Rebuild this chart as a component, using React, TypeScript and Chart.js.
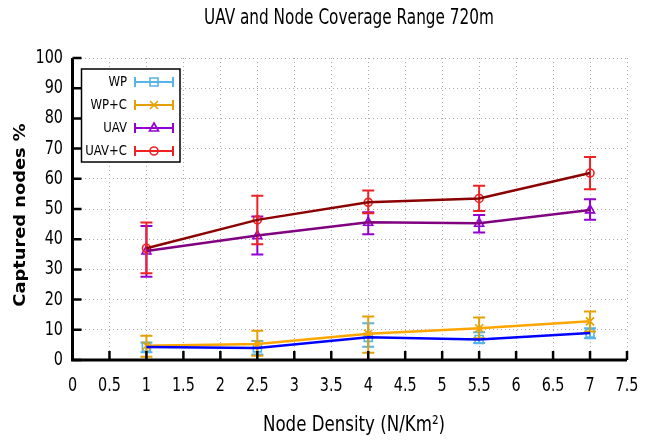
import React, { useEffect, useRef } from "react";
import { Chart, registerables } from "chart.js";
Chart.register(...registerables);

const densities = [1, 2.5, 4, 5.5, 7];
const seriesNames = ["WP", "WP+C", "UAV", "UAV+C"];

const wpMean = [4.3, 4.0, 7.5, 6.8, 8.9];
const wpLow = [2.6, 1.8, 4.4, 5.6, 7.2];
const wpHigh = [5.8, 6.3, 12.2, 9.2, 10.5];

const wpcMean = [4.7, 5.3, 8.7, 10.5, 12.8];
const wpcLow = [1.1, 1.4, 2.4, 7.2, 9.4];
const wpcHigh = [8.0, 9.7, 14.4, 14.1, 16.1];

const uavMean = [36.1, 41.2, 45.6, 45.3, 49.7];
const uavLow = [27.6, 34.9, 41.6, 42.2, 46.4];
const uavHigh = [44.4, 47.5, 48.9, 48.0, 53.2];

const uavcMean = [37.0, 46.4, 52.2, 53.5, 61.9];
const uavcLow = [28.7, 38.3, 48.6, 49.3, 56.5];
const uavcHigh = [45.5, 54.4, 56.1, 57.7, 67.2];

const means = [wpMean, wpcMean, uavMean, uavcMean];
const lows = [wpLow, wpcLow, uavLow, uavcLow];
const highs = [wpHigh, wpcHigh, uavHigh, uavcHigh];

const titleText = "UAV and Node Coverage Range 720m";
const xTitle = "Node Density (N/Km\u00B2)";
const yTitle = "Captured nodes %";

const lineColors = ["#0000ff", "#ffa500", "#800080", "#8b0000"];
const errColors = ["#56b4e9", "#e69f00", "#9400d3", "#ee2222"];
const markers = ["square", "cross", "triangle", "circle"];

const FONT = '"DejaVu Sans Condensed", "Liberation Sans Narrow", "DejaVu Sans", sans-serif';

function drawMarker(ctx: CanvasRenderingContext2D, kind: string, x: number, y: number, color: string) {
  ctx.save();
  ctx.strokeStyle = color;
  ctx.lineWidth = 1.6;
  ctx.beginPath();
  const s = 4;
  if (kind === "square") {
    ctx.rect(x - s, y - s, 2 * s, 2 * s);
  } else if (kind === "cross") {
    ctx.moveTo(x - s, y - s); ctx.lineTo(x + s, y + s);
    ctx.moveTo(x + s, y - s); ctx.lineTo(x - s, y + s);
  } else if (kind === "triangle") {
    ctx.moveTo(x, y - s - 1); ctx.lineTo(x + s + 0.5, y + s - 1); ctx.lineTo(x - s - 0.5, y + s - 1); ctx.closePath();
  } else {
    ctx.arc(x, y, s, 0, Math.PI * 2);
  }
  ctx.stroke();
  ctx.restore();
}

function drawErrBar(ctx: CanvasRenderingContext2D, x: number, y1: number, y2: number, color: string) {
  ctx.save();
  ctx.strokeStyle = color;
  ctx.lineWidth = 2;
  ctx.beginPath();
  ctx.moveTo(x, y1); ctx.lineTo(x, y2);
  ctx.moveTo(x - 6, y1); ctx.lineTo(x + 6, y1);
  ctx.moveTo(x - 6, y2); ctx.lineTo(x + 6, y2);
  ctx.stroke();
  ctx.restore();
}

function stretchedText(ctx: CanvasRenderingContext2D, text: string, x: number, y: number, font: string, align: CanvasTextAlign, k: number) {
  ctx.save();
  ctx.translate(x, y);
  ctx.scale(1, k);
  ctx.font = font;
  ctx.textAlign = align;
  ctx.textBaseline = "middle";
  ctx.fillStyle = "#000";
  ctx.fillText(text, 0, 0);
  ctx.restore();
}

const errorPlugin = {
  id: "errbars",
  beforeDatasetsDraw(chart: any) {
    const ctx = chart.ctx;
    const xs = chart.scales.x, ys = chart.scales.y;
    for (let i = 0; i < means.length; i++) {
      for (let j = 0; j < densities.length; j++) {
        const px = xs.getPixelForValue(densities[j]);
        drawErrBar(ctx, px, ys.getPixelForValue(lows[i][j]), ys.getPixelForValue(highs[i][j]), errColors[i]);
        drawMarker(ctx, markers[i], px, ys.getPixelForValue(means[i][j]), errColors[i]);
      }
    }
  },
};

const decorPlugin = {
  id: "decor",
  afterDraw(chart: any) {
    const ctx = chart.ctx;
    const a = chart.chartArea;
    const xs = chart.scales.x, ys = chart.scales.y;
    ctx.save();
    // axes
    ctx.strokeStyle = "#000";
    ctx.lineWidth = 3;
    ctx.beginPath();
    ctx.moveTo(a.left, a.top); ctx.lineTo(a.left, a.bottom); ctx.lineTo(a.right, a.bottom);
    ctx.stroke();
    ctx.lineWidth = 2.5;
    ctx.beginPath();
    xs.ticks.forEach((t: any) => {
      const px = xs.getPixelForValue(t.value);
      ctx.moveTo(px, a.bottom); ctx.lineTo(px, a.bottom - 9);
    });
    ys.ticks.forEach((t: any) => {
      const py = ys.getPixelForValue(t.value);
      ctx.moveTo(a.left, py); ctx.lineTo(a.left + 9, py);
    });
    ctx.stroke();

    // tick labels
    const tickFont = `16px ${FONT}`;
    xs.ticks.forEach((t: any) => {
      stretchedText(ctx, String(t.value), xs.getPixelForValue(t.value), 385.5, tickFont, "center", 1.22);
    });
    ys.ticks.forEach((t: any) => {
      stretchedText(ctx, String(t.value), 63, ys.getPixelForValue(t.value), tickFont, "right", 1.22);
    });

    // titles
    stretchedText(ctx, titleText, 349, 18.5, `17px ${FONT}`, "center", 1.22);
    stretchedText(ctx, xTitle, 354, 425.5, `18.5px ${FONT}`, "center", 1.15);
    ctx.save();
    ctx.translate(21, 215);
    ctx.rotate(-Math.PI / 2);
    ctx.scale(1.2, 1);
    ctx.font = `bold 16.5px ${FONT}`;
    ctx.textAlign = "center";
    ctx.textBaseline = "middle";
    ctx.fillStyle = "#000";
    ctx.fillText(yTitle, 0, 0);
    ctx.restore();

    // legend
    const lx = 81.5, ly = 69, lw = 98.5, lh = 93;
    ctx.fillStyle = "#fff";
    ctx.fillRect(lx, ly, lw, lh);
    ctx.strokeStyle = "#000";
    ctx.lineWidth = 1.5;
    ctx.strokeRect(lx, ly, lw, lh);
    for (let i = 0; i < seriesNames.length; i++) {
      const y = 82 + i * 23;
      stretchedText(ctx, seriesNames[i], 127, y, `13px ${FONT}`, "right", 1.12);
      ctx.strokeStyle = errColors[i];
      ctx.lineWidth = 2;
      ctx.beginPath();
      ctx.moveTo(135, y); ctx.lineTo(173, y);
      ctx.moveTo(135, y - 5); ctx.lineTo(135, y + 5);
      ctx.moveTo(173, y - 5); ctx.lineTo(173, y + 5);
      ctx.stroke();
      drawMarker(ctx, markers[i], 154, y, errColors[i]);
    }
    ctx.restore();
  },
};

export default function App() {
  const ref = useRef<HTMLCanvasElement>(null);
  useEffect(() => {
    if (!ref.current) return;
    const chart = new Chart(ref.current, {
      type: "line",
      data: {
        datasets: seriesNames.map((name, i) => ({
          label: name,
          data: densities.map((d, j) => ({ x: d, y: means[i][j] })),
          borderColor: lineColors[i],
          backgroundColor: lineColors[i],
          borderWidth: 2.5,
          pointRadius: 0,
          tension: 0,
          fill: false,
        })),
      },
      options: {
        responsive: false,
        animation: false,
        layout: { padding: { top: 58, right: 30, left: 0.5, bottom: 0 } },
        plugins: { legend: { display: false }, tooltip: { enabled: false }, title: { display: false } },
        scales: {
          x: {
            type: "linear",
            min: 0,
            max: 7.5,
            afterFit: (s: any) => { s.height = 81; },
            ticks: { stepSize: 0.5, display: false, autoSkip: false },
            grid: { color: "#aaaaaa", lineWidth: 1, drawTicks: false },
            border: { display: false, dash: [1, 3] },
          },
          y: {
            min: 0,
            max: 100,
            afterFit: (s: any) => { s.width = 72; },
            ticks: { stepSize: 10, display: false },
            grid: { color: "#aaaaaa", lineWidth: 1, drawTicks: false },
            border: { display: false, dash: [1, 3] },
          },
        },
      },
      plugins: [errorPlugin, decorPlugin],
    });
    return () => chart.destroy();
  }, []);
  return (
    <canvas ref={ref} width={657} height={441} style={{ position: "absolute", left: 0, top: 0, display: "block" }} />
  );
}
